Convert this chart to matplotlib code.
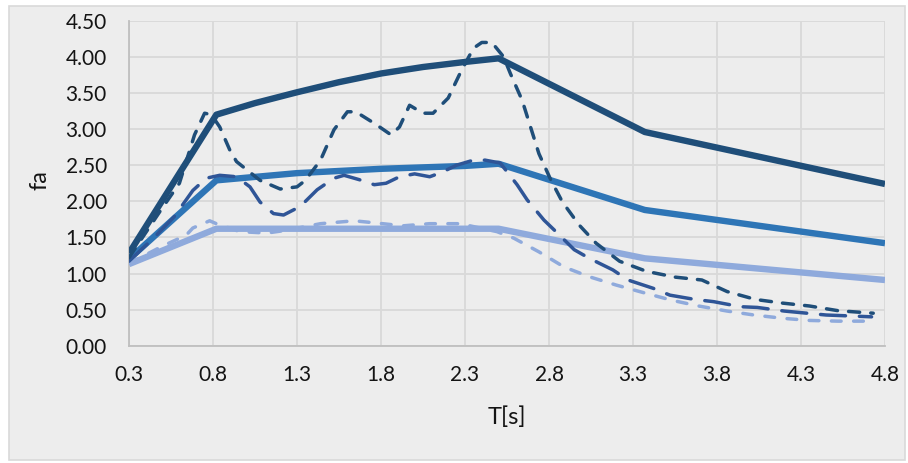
import matplotlib
matplotlib.use("Agg")
import matplotlib.pyplot as plt
from matplotlib.patches import Rectangle

plt.rcParams["font.family"] = ["Lato", "DejaVu Sans"]
plt.rcParams["lines.scale_dashes"] = False

# Design spectra (solid) – period T [s] and amplification factor fa
design_dark_T = [0.3, 0.82, 1.05, 1.3, 1.55, 1.8, 2.05, 2.3, 2.5, 3.37, 4.8]
design_dark_fa = [1.28, 3.20, 3.36, 3.51, 3.65, 3.77, 3.86, 3.93, 3.98, 2.96, 2.24]

design_mid_T = [0.3, 0.82, 1.3, 1.8, 2.3, 2.5, 3.37, 4.8]
design_mid_fa = [1.20, 2.29, 2.39, 2.45, 2.49, 2.52, 1.88, 1.42]

design_light_T = [0.3, 0.82, 2.5, 3.37, 4.8]
design_light_fa = [1.13, 1.62, 1.62, 1.21, 0.91]

# Computed spectra (dashed)
calc_dark_T = [0.3, 0.49, 0.6, 0.69, 0.75, 0.79, 0.84, 0.9, 0.94, 1.08, 1.2, 1.3,
               1.35, 1.44, 1.52, 1.6, 1.65, 1.76, 1.86, 1.91, 1.97, 2.05, 2.11,
               2.2, 2.27, 2.35, 2.4, 2.46, 2.53, 2.57, 2.64, 2.69, 2.74, 2.81,
               2.88, 2.98, 3.08, 3.22, 3.38, 3.55, 3.71, 3.86, 4.03, 4.19, 4.35,
               4.52, 4.73]
calc_dark_fa = [1.22, 1.88, 2.25, 2.92, 3.22, 3.20, 3.03, 2.71, 2.55, 2.29, 2.17,
                2.20, 2.29, 2.57, 2.99, 3.24, 3.24, 3.08, 2.92, 3.03, 3.33, 3.22,
                3.22, 3.43, 3.77, 4.12, 4.20, 4.20, 4.00, 3.77, 3.40, 3.03, 2.66,
                2.30, 1.99, 1.67, 1.42, 1.17, 1.03, 0.95, 0.91, 0.75, 0.64, 0.59,
                0.55, 0.485, 0.45]

calc_mid_T = [0.3, 0.45, 0.57, 0.68, 0.76, 0.84, 0.94, 1.02, 1.08, 1.16, 1.22,
              1.32, 1.42, 1.52, 1.58, 1.67, 1.76, 1.83, 1.91, 2.0, 2.09, 2.16,
              2.25, 2.35, 2.42, 2.51, 2.61, 2.67, 2.77, 2.85, 2.95, 3.04, 3.18,
              3.27, 3.42, 3.52, 3.67, 3.78, 3.94, 4.04, 4.2, 4.29, 4.45, 4.56,
              4.72]
calc_mid_fa = [1.17, 1.50, 1.79, 2.15, 2.32, 2.36, 2.34, 2.20, 1.99, 1.83, 1.81,
               1.93, 2.16, 2.32, 2.36, 2.30, 2.23, 2.25, 2.34, 2.38, 2.34, 2.40,
               2.50, 2.57, 2.57, 2.53, 2.23, 2.02, 1.74, 1.56, 1.33, 1.21, 1.05,
               0.91, 0.795, 0.70, 0.64, 0.61, 0.54, 0.53, 0.48, 0.46, 0.425,
               0.415, 0.40]

calc_light_T = [0.3, 0.5, 0.64, 0.68, 0.78, 0.82, 0.96, 1.12, 1.24, 1.44, 1.64,
                1.77, 1.93, 2.09, 2.27, 2.49, 2.59, 2.74, 2.89, 3.04, 3.2, 3.37,
                3.53, 3.69, 3.86, 4.02, 4.19, 4.35, 4.52, 4.72]
calc_light_fa = [1.14, 1.38, 1.53, 1.63, 1.73, 1.69, 1.58, 1.56, 1.60, 1.69, 1.73,
                 1.70, 1.66, 1.69, 1.69, 1.58, 1.49, 1.30, 1.09, 0.955, 0.84,
                 0.73, 0.63, 0.55, 0.48, 0.425, 0.38, 0.35, 0.34, 0.34]

x_ticks = [0.3, 0.8, 1.3, 1.8, 2.3, 2.8, 3.3, 3.8, 4.3, 4.8]
y_ticks = [0.0, 0.5, 1.0, 1.5, 2.0, 2.5, 3.0, 3.5, 4.0, 4.5]

DARK = "#1f4e79"
MID = "#2e75b6"
MID_DASH = "#2f5597"
LIGHT = "#8faadc"
BG = "#ededed"
GRID = "#d9d9d9"
TEXT = "#141414"

fig = plt.figure(figsize=(9.08, 4.63), dpi=100)
fig.patch.set_facecolor("white")
frame = Rectangle((9 / 908, 1 - 460 / 463), 896 / 908, 454 / 463,
                  transform=fig.transFigure, facecolor=BG,
                  edgecolor=GRID, linewidth=1.2, zorder=-10)
fig.add_artist(frame)

ax = fig.add_axes([129 / 908, 1 - 345.7 / 463, 756 / 908, 324.9 / 463])
ax.set_facecolor(BG)

solid_kw = dict(linewidth=4.6, solid_joinstyle="round", solid_capstyle="butt")
ax.plot(design_dark_T, design_dark_fa, color=DARK, zorder=3, **solid_kw)
ax.plot(design_mid_T, design_mid_fa, color=MID, zorder=3, **solid_kw)
ax.plot(design_light_T, design_light_fa, color=LIGHT, zorder=3, **solid_kw)

dash_kw = dict(linewidth=2.5, dash_capstyle="round", dash_joinstyle="round")
ax.plot(calc_light_T, calc_light_fa, color=LIGHT, dashes=(7, 9), zorder=4, **dash_kw)
ax.plot(calc_mid_T, calc_mid_fa, color=MID_DASH, dashes=(18, 10), zorder=4, **dash_kw)
ax.plot(calc_dark_T, calc_dark_fa, color=DARK, dashes=(8, 8), zorder=5, **dash_kw)

ax.set_xlim(0.3, 4.8)
ax.set_ylim(0.0, 4.5)
ax.set_xticks(x_ticks)
ax.set_xticklabels([f"{v:.1f}" for v in x_ticks])
ax.set_yticks(y_ticks)
ax.set_yticklabels([f"{v:.2f}" for v in y_ticks])
ax.tick_params(axis="both", length=0, labelsize=15, colors=TEXT)
ax.tick_params(axis="y", pad=16)
ax.tick_params(axis="x", pad=14)

ax.grid(True, color=GRID, linewidth=1.3, zorder=1)
ax.set_axisbelow(True)
for side in ("top", "right"):
    ax.spines[side].set_visible(False)
ax.spines["left"].set_color("#bfbfbf")
ax.spines["bottom"].set_color("#bfbfbf")
ax.spines["left"].set_linewidth(1.3)
ax.spines["bottom"].set_linewidth(1.3)

ax.set_xlabel("T[s]", fontsize=17, color=TEXT, va="center", ha="center")
ax.set_ylabel("fa", fontsize=17, color=TEXT, va="center", ha="center")
ax.xaxis.set_label_coords(0.5, (345.7 - 417.5) / 324.9)
ax.yaxis.set_label_coords((40 - 129) / 756, (345.7 - 180) / 324.9)

fig.savefig("out.png", dpi=100, facecolor=fig.get_facecolor())
